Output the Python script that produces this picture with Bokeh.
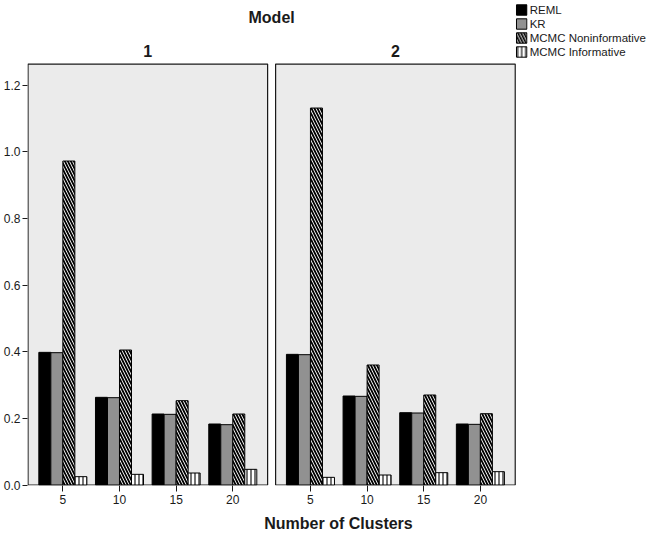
import numpy as np
from bokeh.plotting import figure
from bokeh.core.properties import value
from bokeh.models import (FixedTicker, Label, Legend, LegendItem, Range1d,
                          CanvasTexture, PrintfTickFormatter)
from bokeh.embed import file_html
from bokeh.resources import INLINE

# ---------------- data ----------------
clusters = ["5", "10", "15", "20"]
models = ["1", "2"]
series = ["REML", "KR", "MCMC Noninformative", "MCMC Informative"]

m1_reml = [0.398, 0.263, 0.213, 0.183]
m1_kr = [0.397, 0.262, 0.212, 0.181]
m1_noninf = [0.972, 0.405, 0.253, 0.213]
m1_inf = [0.025, 0.032, 0.036, 0.047]

m2_reml = [0.392, 0.267, 0.217, 0.183]
m2_kr = [0.391, 0.266, 0.216, 0.182]
m2_noninf = [1.131, 0.360, 0.270, 0.214]
m2_inf = [0.023, 0.030, 0.037, 0.040]

y_ticks = [0.0, 0.2, 0.4, 0.6, 0.8, 1.0, 1.2]

values = {
    "REML": [m1_reml, m2_reml],
    "KR": [m1_kr, m2_kr],
    "MCMC Noninformative": [m1_noninf, m2_noninf],
    "MCMC Informative": [m1_inf, m2_inf],
}

# ---------------- layout helpers ----------------
FONT = "Liberation Sans"
INK = "#1a1a1a"
PAD = 0.615
PANEL_SPAN = len(clusters) - 1 + 2 * PAD
GAP = 0.141
OFFSETS = [0.0, PANEL_SPAN + GAP]
BAR_W = 0.212
Y_TOP = 1.263
PX_PER_X = 240 / PANEL_SPAN
PX_PER_Y = 333.3

checker = CanvasTexture(code="""
const s = scale / 2;
ctx.fillStyle = "black";
ctx.fillRect(0, 0, s, s);
ctx.fillRect(s, s, s, s);
""")

styles = {
    "REML": dict(fill_color="black"),
    "KR": dict(fill_color="white", hatch_pattern=value("checker"), hatch_color="black",
               hatch_scale=6, hatch_extra={"checker": checker}),
    "MCMC Noninformative": dict(fill_color="white", hatch_pattern="\\", hatch_color="black",
                                hatch_scale=6, hatch_weight=1.8),
    "MCMC Informative": dict(fill_color="white", hatch_pattern="|", hatch_color="black",
                             hatch_scale=4, hatch_weight=1.1),
}

W, H = 649, 534
BL, BB = 26, 49
x_start = -PAD - 0.009
x_end = x_start + (W - BL) / PX_PER_X
y_start = -0.0015
y_end = y_start + (H - BB) / PX_PER_Y

p = figure(width=W, height=H, output_backend="svg", toolbar_location=None,
           x_range=Range1d(x_start, x_end), y_range=Range1d(y_start, y_end),
           min_border_left=BL, min_border_right=0, min_border_top=0,
           min_border_bottom=BB)
p.background_fill_color = "white"
p.border_fill_color = "white"
p.outline_line_color = None
p.xgrid.visible = False
p.ygrid.visible = False

# panel backgrounds / borders
panel_left = [o - PAD for o in OFFSETS]
panel_right = [o - PAD + PANEL_SPAN for o in OFFSETS]
p.quad(left=panel_left, right=panel_right, bottom=[0, 0], top=[Y_TOP, Y_TOP],
       fill_color="#ebebeb", line_color=INK, line_width=1.2)

# bars
idx = np.arange(len(clusters))
renderers = {}
for si, name in enumerate(series):
    xs, tops = [], []
    for mi, _m in enumerate(models):
        xs.extend(list(idx + OFFSETS[mi] + (si - 1.5) * BAR_W))
        tops.extend(values[name][mi])
    r = p.vbar(x=xs, top=tops, bottom=0, width=BAR_W, line_color="black",
               line_width=1, **styles[name])
    renderers[name] = r

# axes
tick_pos = [float(i + o) for o in OFFSETS for i in idx]
tick_lab = [c for _ in OFFSETS for c in clusters]
p.xaxis.ticker = FixedTicker(ticks=tick_pos)
p.xaxis.major_label_overrides = {t: l for t, l in zip(tick_pos, tick_lab)}
p.xaxis.axis_line_color = None
p.xaxis.major_tick_out = 6
p.xaxis.major_tick_in = 0
p.xaxis.minor_tick_line_color = None
p.xaxis.major_tick_line_color = INK
p.xaxis.major_label_standoff = 3
p.xaxis.major_label_text_font = FONT
p.xaxis.major_label_text_font_size = "12px"
p.xaxis.major_label_text_color = INK
p.xaxis.axis_label = "Number of Clusters"
p.xaxis.axis_label_text_font = FONT
p.xaxis.axis_label_text_font_size = "16px"
p.xaxis.axis_label_text_font_style = "bold"
p.xaxis.axis_label_text_color = INK
p.xaxis.axis_label_standoff = 8

p.yaxis.ticker = FixedTicker(ticks=y_ticks)
p.yaxis.formatter = PrintfTickFormatter(format="%.1f")
p.yaxis.axis_line_color = None
p.yaxis.major_tick_out = 5
p.yaxis.major_tick_in = 0
p.yaxis.minor_tick_line_color = None
p.yaxis.major_tick_line_color = INK
p.yaxis.major_label_standoff = 2
p.yaxis.major_label_text_font = FONT
p.yaxis.major_label_text_font_size = "12px"
p.yaxis.major_label_text_color = INK

# titles
for mi, m in enumerate(models):
    p.add_layout(Label(x=OFFSETS[mi] + (len(clusters) - 1) / 2, y=1.302, text=m,
                       text_align="center", text_baseline="middle",
                       text_font=FONT, text_font_size="16px",
                       text_font_style="bold", text_color=INK))
p.add_layout(Label(x=(panel_right[0] + panel_left[1]) / 2, y=1.4025, text="Model",
                   text_align="center", text_baseline="middle",
                   text_font=FONT, text_font_size="16px",
                   text_font_style="bold", text_color=INK))

legend = Legend(items=[LegendItem(label=n, renderers=[renderers[n]]) for n in series],
                location="top_right", background_fill_alpha=0, border_line_color=None,
                padding=0, margin=3, spacing=1, glyph_height=13, glyph_width=13,
                label_height=13, label_standoff=2,
                label_text_font=FONT, label_text_font_size="11.5px",
                label_text_color=INK)
p.add_layout(legend)

open("out.html", "w").write(file_html(p, INLINE))
